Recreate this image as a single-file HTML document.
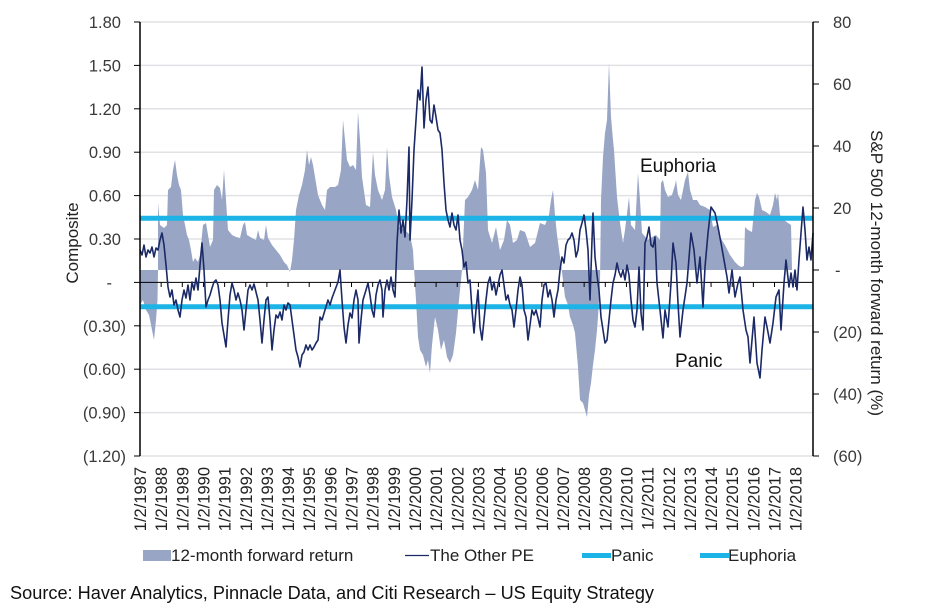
<!DOCTYPE html>
<html><head><meta charset="utf-8"><style>
html,body{margin:0;padding:0;background:#fff;}
svg{display:block;}
text{font-family:"Liberation Sans",Arial,sans-serif;}
</style></head><body>
<svg width="947" height="608" viewBox="0 0 947 608" xmlns="http://www.w3.org/2000/svg">
<rect width="947" height="608" fill="#fff"/>
<!-- gridlines -->
<g stroke="#e2e2e6" stroke-width="1.5">
<line x1="140" y1="22" x2="813" y2="22"/>
<line x1="140" y1="65.4" x2="813" y2="65.4"/>
<line x1="140" y1="108.8" x2="813" y2="108.8"/>
<line x1="140" y1="152.2" x2="813" y2="152.2"/>
<line x1="140" y1="195.6" x2="813" y2="195.6"/>
<line x1="140" y1="239" x2="813" y2="239"/>
<line x1="140" y1="325.8" x2="813" y2="325.8"/>
<line x1="140" y1="369.2" x2="813" y2="369.2"/>
<line x1="140" y1="412.6" x2="813" y2="412.6"/>
<line x1="140" y1="456" x2="813" y2="456"/>
</g>
<!-- bars (12-month forward return) -->
<polygon fill="#98a5c5" points="140,270 140,305 143,300 146,310 149,315 152,330 154,340 156,320 157.5,300 158,270 158,203 160,225 164,228 167,225 168,190 171,187 173,170 175,160 177,175 179,185 181,190 183,215 185,225 187,235 189,240 191,250 193,262 195,258 198,262 200,255 203,225 206,223 208,235 210,247 213,240 214,190 217,185 220,188 222,200 224,170 226,200 228,230 232,235 236,237 240,238 243,225 245,222 247,235 252,238 256,240 258,230 260,238 264,240 266,225 268,238 272,245 276,250 280,255 284,262 287,265 290,272 292,260 294,240 296,210 299,195 302,185 305,170 307,150 309,165 311,157 313,165 315,177 318,195 322,205 325,210 327,190 330,187 335,187 338,185 341,170 343,120 345,140 347,160 350,167 353,165 356,170 358,112 360,140 362,177 366,205 370,207 373,152 375,175 378,190 382,200 385,190 387,147 389,175 392,197 396,210 399,227 405,230 410,235 413,250 414,268 416,300 418,337 420,350 423,355 426,367 428,360 430,373 432,345 435,317 438,330 441,350 444,340 447,357 450,363 453,355 456,333 459,300 462,270 465,200 468,197 472,190 475,180 478,190 481,147 483,150 486,173 488,230 492,243 496,227 500,250 504,240 507,220 510,225 513,243 517,240 520,230 525,232 530,247 535,243 540,223 545,225 549,215 551,200 553,190 555,215 557,235 560,257 562,272 565,297 568,305 570,317 573,325 575,333 578,367 580,400 583,403 585,410 587,417 589,395 591,383 593,365 595,350 597,330 598,317 600,283 601,200 603,157 605,133 607,120 609,63 610,90 611,117 613,140 614,150 617,197 620,223 623,243 625,230 629,197 631,225 635,230 638,173 640,200 642,233 648,240 652,237 656,235 660,240 661,183 663,180 665,190 668,197 672,195 675,185 676,180 678,195 681,200 685,180 688,172 690,190 693,200 697,200 700,205 705,207 710,210 713,227 717,225 720,237 725,245 730,255 735,262 738,265 741,267 744,266 745,227 748,230 752,232 755,200 757,193 759,197 762,210 766,212 770,215 773,205 775,193 777,200 778,193 780,215 784,220 788,223 791,225 792,270"/>
<!-- zero axis line -->
<line x1="140" y1="282.4" x2="813" y2="282.4" stroke="#000" stroke-width="1"/>
<g stroke="#000" stroke-width="1">
<line x1="140" y1="282" x2="140" y2="287"/><line x1="161.15" y1="282" x2="161.15" y2="287"/><line x1="182.3" y1="282" x2="182.3" y2="287"/><line x1="203.45" y1="282" x2="203.45" y2="287"/><line x1="224.6" y1="282" x2="224.6" y2="287"/><line x1="245.75" y1="282" x2="245.75" y2="287"/><line x1="266.9" y1="282" x2="266.9" y2="287"/><line x1="288.05" y1="282" x2="288.05" y2="287"/><line x1="309.2" y1="282" x2="309.2" y2="287"/><line x1="330.35" y1="282" x2="330.35" y2="287"/><line x1="351.5" y1="282" x2="351.5" y2="287"/><line x1="372.65" y1="282" x2="372.65" y2="287"/><line x1="393.8" y1="282" x2="393.8" y2="287"/><line x1="414.95" y1="282" x2="414.95" y2="287"/><line x1="436.1" y1="282" x2="436.1" y2="287"/><line x1="457.25" y1="282" x2="457.25" y2="287"/><line x1="478.4" y1="282" x2="478.4" y2="287"/><line x1="499.55" y1="282" x2="499.55" y2="287"/><line x1="520.7" y1="282" x2="520.7" y2="287"/><line x1="541.85" y1="282" x2="541.85" y2="287"/><line x1="563" y1="282" x2="563" y2="287"/><line x1="584.15" y1="282" x2="584.15" y2="287"/><line x1="605.3" y1="282" x2="605.3" y2="287"/><line x1="626.45" y1="282" x2="626.45" y2="287"/><line x1="647.6" y1="282" x2="647.6" y2="287"/><line x1="668.75" y1="282" x2="668.75" y2="287"/><line x1="689.9" y1="282" x2="689.9" y2="287"/><line x1="711.05" y1="282" x2="711.05" y2="287"/><line x1="732.2" y1="282" x2="732.2" y2="287"/><line x1="753.35" y1="282" x2="753.35" y2="287"/><line x1="774.5" y1="282" x2="774.5" y2="287"/><line x1="795.65" y1="282" x2="795.65" y2="287"/>
</g>
<!-- cyan threshold lines -->
<line x1="140" y1="218.3" x2="813" y2="218.3" stroke="#1cb4e6" stroke-width="5"/>
<line x1="140" y1="306.7" x2="813" y2="306.7" stroke="#1cb4e6" stroke-width="5"/>
<!-- The Other PE line -->
<polyline fill="none" stroke="#1b2a66" stroke-width="1.6" stroke-linejoin="round" points="140,250 142,255 144,245 146,257 148,250 150,253 152,247 154,257 156,248 158,250 160,240 162,233 164,245 166,265 168,287 170,297 172,290 174,305 176,300 178,310 180,317 182,300 184,290 186,298 188,285 190,300 192,282 194,290 196,278 198,290 200,265 202,243 204,270 206,307 208,300 210,295 212,288 214,282 216,280 218,285 220,300 222,323 224,335 226,347 228,320 230,295 232,283 234,290 236,300 238,293 240,300 242,310 244,330 246,310 248,290 250,285 252,290 254,284 256,292 258,300 260,320 262,343 264,320 266,300 268,297 270,320 272,350 274,330 276,315 278,318 280,312 282,320 284,305 286,310 288,303 290,305 292,320 294,335 296,350 298,357 300,367 302,355 304,352 306,345 308,350 310,345 312,350 314,347 316,343 318,340 320,317 322,320 325,310 328,300 330,305 332,298 335,290 338,282 340,270 342,300 344,327 346,343 348,325 350,313 352,318 354,300 356,290 358,300 359,343 361,320 363,300 366,290 368,283 370,295 372,310 374,317 376,295 378,285 380,280 382,290 383,317 385,290 387,280 389,290 391,277 393,290 395,297 397,243 399,210 401,233 403,220 405,237 407,200 409,147 410,240 412,200 414,150 416,120 418,90 420,100 422,67 424,128 426,100 428,87 430,120 432,123 434,105 436,117 438,130 440,133 442,150 444,183 446,210 448,220 450,227 452,213 454,225 456,230 458,215 460,240 462,250 464,267 466,262 468,283 470,280 472,310 474,333 476,310 478,290 480,327 482,340 484,320 486,300 488,283 490,277 492,290 494,282 496,295 498,285 500,275 502,270 504,285 506,300 508,295 510,305 512,310 514,327 516,310 518,290 520,277 522,285 524,310 526,317 528,340 530,325 532,310 534,315 536,310 538,318 540,327 542,300 544,285 546,283 548,297 550,290 552,300 554,317 556,300 558,290 560,270 562,257 564,263 566,245 568,240 570,238 572,233 574,240 576,257 578,250 580,230 582,223 584,215 586,230 588,250 590,300 592,240 593,213 595,257 597,275 599,290 601,317 603,330 605,343 607,340 609,320 611,300 613,283 615,275 617,263 619,272 621,277 623,270 625,280 627,265 629,275 631,300 633,320 635,327 637,310 639,267 641,313 643,330 645,243 647,237 649,227 651,245 653,247 655,237 657,283 660,310 663,338 665,310 668,327 671,283 673,243 676,263 678,303 680,337 683,310 687,283 691,233 694,250 697,283 700,257 703,307 705,267 708,233 711,207 715,213 718,227 721,243 724,260 727,277 729,293 732,270 735,297 738,283 740,277 743,310 746,330 748,337 750,363 752,340 754,317 757,363 760,378 762,350 765,317 767,327 770,343 773,323 776,297 779,290 781,330 784,283 786,260 789,287 791,273 793,287 795,270 797,290 799,260 801,233 803,207 805,230 807,260 809,247 811,260 813,233"/>
<!-- axes -->
<line x1="140" y1="22" x2="140" y2="456" stroke="#000" stroke-width="1.5"/>
<line x1="813" y1="22" x2="813" y2="456" stroke="#000" stroke-width="1.5"/>
<g stroke="#000" stroke-width="1">
<line x1="134" y1="22" x2="140" y2="22"/><line x1="134" y1="65.4" x2="140" y2="65.4"/><line x1="134" y1="108.8" x2="140" y2="108.8"/><line x1="134" y1="152.2" x2="140" y2="152.2"/><line x1="134" y1="195.6" x2="140" y2="195.6"/><line x1="134" y1="239" x2="140" y2="239"/><line x1="134" y1="282.4" x2="140" y2="282.4"/><line x1="134" y1="325.8" x2="140" y2="325.8"/><line x1="134" y1="369.2" x2="140" y2="369.2"/><line x1="134" y1="412.6" x2="140" y2="412.6"/><line x1="134" y1="456" x2="140" y2="456"/>
<line x1="813" y1="22" x2="819" y2="22"/><line x1="813" y1="84" x2="819" y2="84"/><line x1="813" y1="146" x2="819" y2="146"/><line x1="813" y1="208" x2="819" y2="208"/><line x1="813" y1="270" x2="819" y2="270"/><line x1="813" y1="332" x2="819" y2="332"/><line x1="813" y1="394" x2="819" y2="394"/><line x1="813" y1="456" x2="819" y2="456"/>
</g>
<!-- left tick labels -->
<g font-size="16.5" fill="#3a3a3a" text-anchor="end">
<text x="121" y="28">1.80</text>
<text x="121" y="71.4">1.50</text>
<text x="121" y="114.8">1.20</text>
<text x="121" y="158.2">0.90</text>
<text x="121" y="201.6">0.60</text>
<text x="121" y="245">0.30</text>
<text x="112" y="288.4">-</text>
<text x="126" y="331.8">(0.30)</text>
<text x="126" y="375.2">(0.60)</text>
<text x="126" y="418.6">(0.90)</text>
<text x="126" y="462">(1.20)</text>
</g>
<!-- right tick labels -->
<g font-size="16.5" fill="#3a3a3a">
<text x="833" y="28">80</text>
<text x="833" y="90">60</text>
<text x="833" y="152">40</text>
<text x="833" y="214">20</text>
<text x="835" y="276">-</text>
<text x="833" y="338">(20)</text>
<text x="833" y="400">(40)</text>
<text x="833" y="462">(60)</text>
</g>
<!-- axis titles -->
<text font-size="17" fill="#222" text-anchor="middle" transform="translate(78,243) rotate(-90)">Composite</text>
<text font-size="17" fill="#222" text-anchor="middle" transform="translate(871,273) rotate(90)" textLength="286" lengthAdjust="spacingAndGlyphs">S&amp;P 500 12-month forward return (%)</text>
<!-- x labels -->
<g font-size="16.5" fill="#222" text-anchor="end">
<text transform="translate(146,467) rotate(-90)">1/2/1987</text>
<text transform="translate(167.15,467) rotate(-90)">1/2/1988</text>
<text transform="translate(188.3,467) rotate(-90)">1/2/1989</text>
<text transform="translate(209.45,467) rotate(-90)">1/2/1990</text>
<text transform="translate(230.6,467) rotate(-90)">1/2/1991</text>
<text transform="translate(251.75,467) rotate(-90)">1/2/1992</text>
<text transform="translate(272.9,467) rotate(-90)">1/2/1993</text>
<text transform="translate(294.05,467) rotate(-90)">1/2/1994</text>
<text transform="translate(315.2,467) rotate(-90)">1/2/1995</text>
<text transform="translate(336.35,467) rotate(-90)">1/2/1996</text>
<text transform="translate(357.5,467) rotate(-90)">1/2/1997</text>
<text transform="translate(378.65,467) rotate(-90)">1/2/1998</text>
<text transform="translate(399.8,467) rotate(-90)">1/2/1999</text>
<text transform="translate(420.95,467) rotate(-90)">1/2/2000</text>
<text transform="translate(442.1,467) rotate(-90)">1/2/2001</text>
<text transform="translate(463.25,467) rotate(-90)">1/2/2002</text>
<text transform="translate(484.4,467) rotate(-90)">1/2/2003</text>
<text transform="translate(505.55,467) rotate(-90)">1/2/2004</text>
<text transform="translate(526.7,467) rotate(-90)">1/2/2005</text>
<text transform="translate(547.85,467) rotate(-90)">1/2/2006</text>
<text transform="translate(569,467) rotate(-90)">1/2/2007</text>
<text transform="translate(590.15,467) rotate(-90)">1/2/2008</text>
<text transform="translate(611.3,467) rotate(-90)">1/2/2009</text>
<text transform="translate(632.45,467) rotate(-90)">1/2/2010</text>
<text transform="translate(653.6,467) rotate(-90)">1/2/2011</text>
<text transform="translate(674.75,467) rotate(-90)">1/2/2012</text>
<text transform="translate(695.9,467) rotate(-90)">1/2/2013</text>
<text transform="translate(717.05,467) rotate(-90)">1/2/2014</text>
<text transform="translate(738.2,467) rotate(-90)">1/2/2015</text>
<text transform="translate(759.35,467) rotate(-90)">1/2/2016</text>
<text transform="translate(780.5,467) rotate(-90)">1/2/2017</text>
<text transform="translate(801.65,467) rotate(-90)">1/2/2018</text>
</g>
<!-- annotations -->
<text x="640" y="172" font-size="19" fill="#111">Euphoria</text>
<text x="675" y="367" font-size="19" fill="#111">Panic</text>
<!-- legend -->
<rect x="143" y="550" width="28" height="11" fill="#98a5c5"/>
<text x="171" y="561" font-size="17" fill="#222">12-month forward return</text>
<line x1="405" y1="555.5" x2="429" y2="555.5" stroke="#1b2a66" stroke-width="1.3"/>
<text x="430" y="561" font-size="17" fill="#222">The Other PE</text>
<line x1="582" y1="555.5" x2="611" y2="555.5" stroke="#1cb4e6" stroke-width="5"/>
<text x="611" y="561" font-size="17" fill="#222">Panic</text>
<line x1="700" y1="555.5" x2="729" y2="555.5" stroke="#1cb4e6" stroke-width="5"/>
<text x="728" y="561" font-size="17" fill="#222">Euphoria</text>
<!-- source -->
<text x="10" y="599" font-size="18" fill="#111" textLength="644" lengthAdjust="spacingAndGlyphs">Source: Haver Analytics, Pinnacle Data, and Citi Research – US Equity Strategy</text>
</svg>
</body></html>
